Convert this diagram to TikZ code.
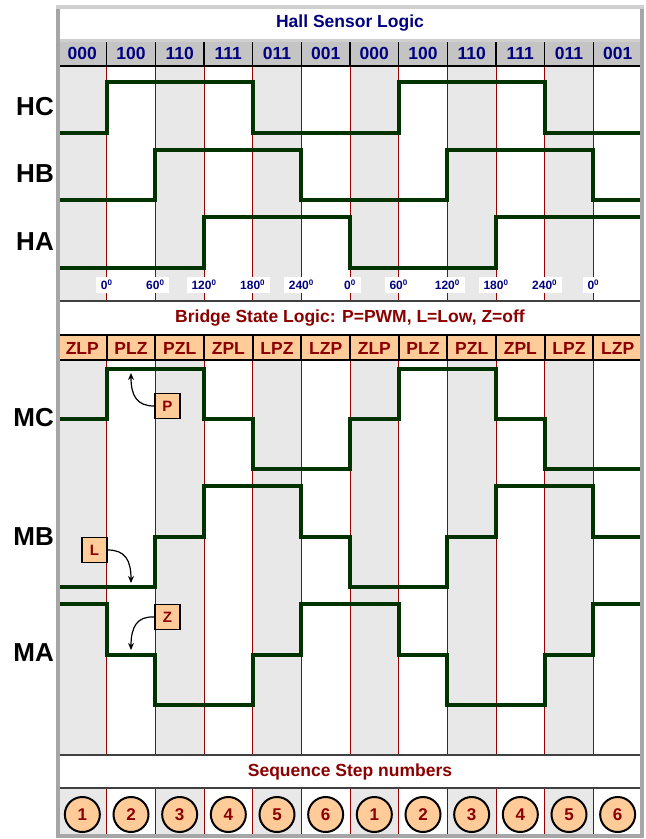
\documentclass[tikz,border=0pt]{standalone}
\usepackage{fontspec}
\setmainfont{Liberation Sans}
\usetikzlibrary{arrows.meta}
\definecolor{navy}{HTML}{000080}
\definecolor{dred}{HTML}{8B0000}
\definecolor{colshade}{HTML}{E8E8E8}
\definecolor{hdr}{HTML}{C4C4C4}
\definecolor{orng}{HTML}{FFCC99}
\definecolor{wave}{HTML}{003300}
\definecolor{framec}{HTML}{A6A6A6}
\definecolor{framet}{HTML}{CFCFCF}
\definecolor{divred}{HTML}{990000}
\definecolor{sepc}{HTML}{404040}
\tikzset{
  bandtitle/.style={font=\fontsize{17.5}{20}\selectfont\bfseries, inner sep=0pt},
  hallcode/.style={font=\fontsize{17.5}{20}\selectfont\bfseries, text=navy, inner sep=0pt},
  bridgecode/.style={font=\fontsize{17.5}{20}\selectfont\bfseries, text=dred, inner sep=0pt},
  anglelbl/.style={font=\fontsize{12}{13}\selectfont\bfseries, text=navy, fill=white, inner xsep=5pt, inner ysep=2.5pt},
  siglbl/.style={font=\fontsize{26}{28}\selectfont\bfseries, anchor=east, inner sep=0pt},
  tagbox/.style={draw=black, line width=1.6pt, fill=orng, text=dred, font=\fontsize{15}{16}\selectfont\bfseries, minimum size=25pt, inner sep=0pt},
  stepcircle/.style={circle, draw=black, line width=2pt, fill=orng, text=dred, font=\fontsize{17}{18}\selectfont\bfseries, minimum size=35pt, inner sep=0pt},
  wavefm/.style={draw=wave, line width=4pt, line join=miter},
  divline/.style={draw=divred, line width=0.9pt},
  hdrdiv/.style={draw=black, line width=1.4pt},
  callout/.style={draw=black, line width=1.2pt, -{Stealth[length=7pt,width=6pt]}}
}
\begin{document}
\begin{tikzpicture}[x=1pt,y=-1pt]
\useasboundingbox (0,0) rectangle (646,839);
\def\xo{58}
\def\cw{48.6667}
% white background of panel
\fill[white] (58,7) rectangle (642,836);
% column shading
\foreach \i in {0,2,...,10}{
  \fill[colshade] ({\xo+\i*\cw},66) rectangle ({\xo+(\i+1)*\cw},301);
  \fill[colshade] ({\xo+\i*\cw},360) rectangle ({\xo+(\i+1)*\cw},755);
  \fill[colshade] ({\xo+\i*\cw},788) rectangle ({\xo+(\i+1)*\cw},836);
}
% red dividers
\foreach \i in {1,...,11}{
  \draw[divline] ({\xo+\i*\cw},66) -- ({\xo+\i*\cw},301);
  \draw[divline] ({\xo+\i*\cw},360) -- ({\xo+\i*\cw},755);
  \draw[divline] ({\xo+\i*\cw},788) -- ({\xo+\i*\cw},836);
}
% hall header
\fill[hdr] (58,42) rectangle (642,66);
\draw[framet, line width=3pt] (58,40.5) -- (642,40.5);
\foreach \i in {1,...,11}{
  \draw[hdrdiv] ({\xo+\i*\cw},42) -- ({\xo+\i*\cw},66);
}
\draw[black, line width=1.5pt] (58,66) -- (642,66);
\foreach \c [count=\i] in {000,100,110,111,011,001,000,100,110,111,011,001}{
  \node[hallcode] (h\i) at ({\xo+(\i-0.5)*\cw},53.5) {\c};
}
% bridge header
\fill[orng] (58,335) rectangle (642,360);
\foreach \i in {1,...,11}{
  \draw[black, line width=2pt] ({\xo+\i*\cw},335) -- ({\xo+\i*\cw},360);
}
\draw[black, line width=2pt] (58,335) -- (642,335);
\draw[black, line width=2.2pt] (58,360) -- (642,360);
\foreach \c [count=\i] in {ZLP,PLZ,PZL,ZPL,LPZ,LZP,ZLP,PLZ,PZL,ZPL,LPZ,LZP}{
  \node[bridgecode] (b\i) at ({\xo+(\i-0.5)*\cw},348) {\c};
}
% separators
\draw[sepc, line width=1.6pt] (58,301) -- (642,301);
\draw[sepc, line width=1.6pt] (58,755) -- (642,755);
\draw[sepc, line width=1.6pt] (58,788) -- (642,788);
% titles
\node[bandtitle, text=navy] (t1) at (350,23.5) {Hall Sensor Logic};
\node[bandtitle, text=dred] (t2) at (350,318.5) {Bridge State Logic: P=PWM, L=Low, Z=off};
\node[bandtitle, text=dred] (t3) at (350,771.5) {Sequence Step numbers};
% angle labels
\foreach \a [count=\i] in {0,60,120,180,240,0,60,120,180,240,0}{
  \node[anglelbl] (a\i) at ({\xo+\i*\cw},285) {\a\textsuperscript{0}};
}
% hall waveforms
\draw[wavefm] (60,133) -| (106.67,82) -| (252.67,133) -| (398.67,82) -| (544.67,133) -- (640,133);
\draw[wavefm] (60,200) -| (155.33,150) -| (301.33,200) -| (447.33,150) -| (593.33,200) -- (640,200);
\draw[wavefm] (60,268) -| (204,217) -| (350,268) -| (496,217) -- (640,217);
% motor waveforms
\draw[wavefm] (60,419) -| (106.67,369) -| (204,419) -| (252.67,469) -| (350,419) -| (398.67,369) -| (496,419) -| (544.67,469) -- (640,469);
\draw[wavefm] (60,587) -| (155.33,536.5) -| (204,486) -| (301.33,536.5) -| (350,587) -| (447.33,536.5) -| (496,486) -| (593.33,536.5) -- (640,536.5);
\draw[wavefm] (60,603.5) -| (106.67,654.5) -| (155.33,705) -| (252.67,654.5) -| (301.33,603.5) -| (398.67,654.5) -| (447.33,705) -| (544.67,654.5) -| (593.33,603.5) -- (640,603.5);
% signal labels
\node[siglbl] (lhc) at (54,107) {HC};
\node[siglbl] (lhb) at (54,174) {HB};
\node[siglbl] (lha) at (54,242) {HA};
\node[siglbl] (lmc) at (54,418) {MC};
\node[siglbl] (lmb) at (54,537) {MB};
\node[siglbl] (lma) at (54,653) {MA};
% callouts
\node[tagbox] (P) at (167.5,406) {P};
\node[tagbox] (L) at (94.5,550) {L};
\node[tagbox] (Z) at (167.5,617) {Z};
\coordinate (pa) at (131,373);
\coordinate (la) at (131,583);
\coordinate (za) at (131,650);
\draw[callout] (P.west) .. controls (137,406) and (131,396) .. (pa);
\draw[callout] (L.east) .. controls (125,550) and (131,560) .. (la);
\draw[callout] (Z.west) .. controls (137,616) and (131,627) .. (za);
% step circles
\foreach \n [count=\i] in {1,2,3,4,5,6,1,2,3,4,5,6}{
  \node[stepcircle] (c\i) at ({\xo+(\i-0.5)*\cw},814.5) {\n};
}
% frame
\draw[framec, line width=4pt] (58,7) rectangle (642,836);
\draw[framet, line width=4pt] (56,7) -- (644,7);
\end{tikzpicture}
\end{document}
